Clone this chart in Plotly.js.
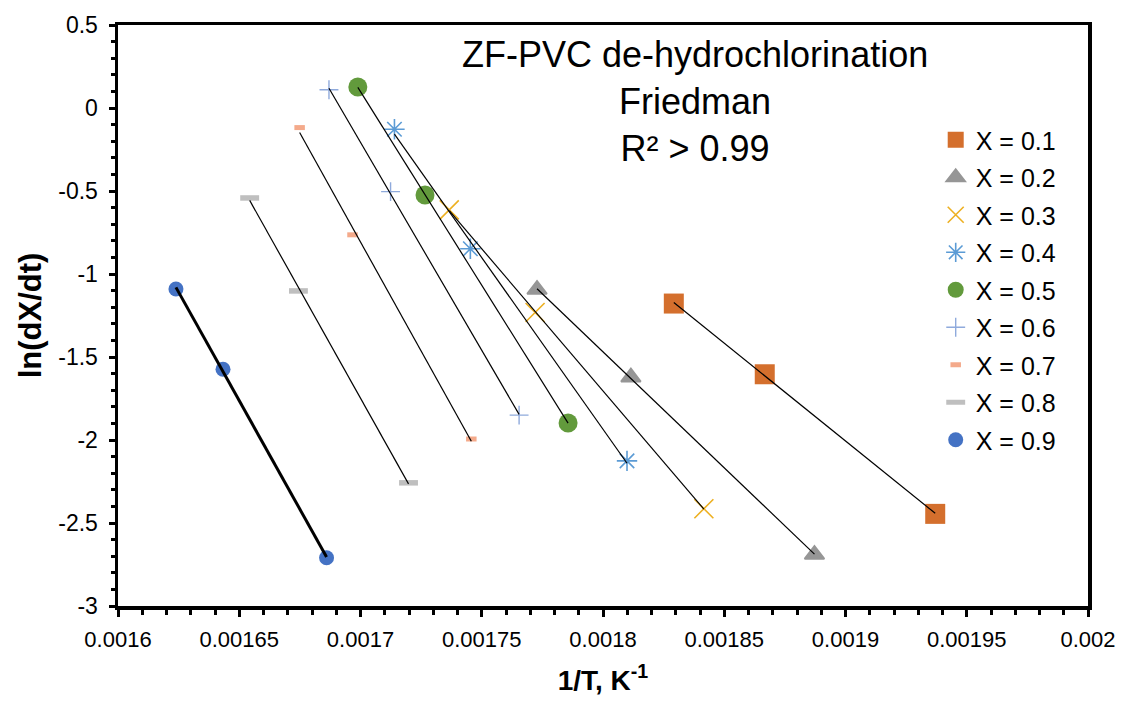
<!DOCTYPE html>
<html><head><meta charset="utf-8">
<script src="https://cdn.plot.ly/plotly-3.0.1.min.js"></script>
<style>html,body{margin:0;padding:0;background:#fff}#chart{width:1128px;height:708px}</style>
</head><body><div id="chart"></div>
<script>
// ---- data (1/T in K^-1, ln(dX/dt)) ----
const seriesNames = ['X = 0.1','X = 0.2','X = 0.3','X = 0.4','X = 0.5','X = 0.6','X = 0.7','X = 0.8','X = 0.9'];
const invT_01 = [0.0018292, 0.0018667, 0.0019370];
const lnR_01  = [-1.178, -1.604, -2.445];
const invT_02 = [0.0017728, 0.0018115, 0.0018872];
const lnR_02  = [-1.094, -1.622, -2.690];
const invT_03 = [0.0017366, 0.0017720, 0.0018416];
const lnR_03  = [-0.614, -1.232, -2.414];
const invT_04 = [0.0017140, 0.0017453, 0.0018099];
const lnR_04  = [-0.128, -0.848, -2.126];
const invT_05 = [0.0016989, 0.0017266, 0.0017856];
const lnR_05  = [0.126, -0.524, -1.898];
const invT_06 = [0.0016870, 0.0017124, 0.0017654];
const lnR_06  = [0.110, -0.504, -1.850];
const invT_07 = [0.0016749, 0.0016967, 0.0017457];
const lnR_07  = [-0.118, -0.764, -1.994];
const invT_08 = [0.0016543, 0.0016744, 0.0017198];
const lnR_08  = [-0.542, -1.102, -2.258];
const invT_09 = [0.0016239, 0.0016433, 0.0016860];
const lnR_09  = [-1.090, -1.574, -2.709];

const xTickVals = [0.0016,0.00165,0.0017,0.00175,0.0018,0.00185,0.0019,0.00195,0.002];
const xTickText = ['0.0016','0.00165','0.0017','0.00175','0.0018','0.00185','0.0019','0.00195','0.002'];
const yTickVals = [-3,-2.5,-2,-1.5,-1,-0.5,0,0.5];
const yTickText = ['-3','-2.5','-2','-1.5','-1','-0.5','0','0.5'];

const titleText = 'ZF-PVC de-hydrochlorination<br>Friedman<br>R² > 0.99';

// ---- styles ----
const xs = [invT_01,invT_02,invT_03,invT_04,invT_05,invT_06,invT_07,invT_08,invT_09];
const ys = [lnR_01,lnR_02,lnR_03,lnR_04,lnR_05,lnR_06,lnR_07,lnR_08,lnR_09];
const styles = [
  {symbol:'square', size:20, color:'#D46F2D', lw:0},
  {symbol:'triangle-up', size:17, color:'#969696', lw:2},
  {symbol:'x-thin-open', size:19, color:'#EDB021', lw:1.6},
  {symbol:'asterisk-open', size:17, color:'#5B9BD5', lw:1.6},
  {symbol:'circle', size:19, color:'#629A3C', lw:0},
  {symbol:'cross-thin-open', size:13.5, color:'#8FAADC', lw:1.4},
  {symbol:'line-ew-open', size:7.5, color:'#F4AA8B', lw:5},
  {symbol:'line-ew-open', size:13.5, color:'#BFBFBF', lw:5.5},
  {symbol:'circle', size:15, color:'#4472C4', lw:0}
];

function linfit(x, y){
  const n = x.length;
  let sx=0, sy=0, sxx=0, sxy=0;
  for(let i=0;i<n;i++){sx+=x[i];sy+=y[i];sxx+=x[i]*x[i];sxy+=x[i]*y[i];}
  const b = (n*sxy - sx*sy)/(n*sxx - sx*sx);
  const a = (sy - b*sx)/n;
  const x0 = Math.min(...x), x1 = Math.max(...x);
  return {x:[x0,x1], y:[a+b*x0, a+b*x1]};
}

const traces = [];
for(let i=0;i<9;i++){
  const s = styles[i];
  traces.push({
    type:'scatter', mode:'markers', name:seriesNames[i],
    x:xs[i], y:ys[i], legendgroup:'g'+i,
    marker:{symbol:s.symbol, size:s.size, color:s.color,
            line:{width:s.lw, color:s.color}},
    hoverinfo:'x+y'
  });
}
for(let i=0;i<9;i++){
  const f = linfit(xs[i], ys[i]);
  traces.push({
    type:'scatter', mode:'lines', x:f.x, y:f.y, showlegend:false,
    line:{color:'#000', width:(i===8?3:1.2)}, hoverinfo:'skip'
  });
}

const font = 'Liberation Sans, Arial, sans-serif';
const layout = {
  width:1128, height:708,
  margin:{l:118, r:40, t:25, b:102},
  paper_bgcolor:'#fff', plot_bgcolor:'#fff',
  font:{family:font, color:'#000'},
  showlegend:true,
  legend:{x:0.843, y:0.8416, xanchor:'left', yanchor:'top',
          font:{family:font, size:25, color:'#000'},
          bgcolor:'rgba(0,0,0,0)', borderwidth:0,
          traceorder:'grouped', tracegroupgap:2},
  xaxis:{
    range:[0.0016,0.002], tickmode:'array', tickvals:xTickVals, ticktext:xTickText,
    showgrid:false, zeroline:false, showline:true, linecolor:'#000', linewidth:3.5, mirror:true,
    ticks:'outside', ticklen:7, tickwidth:3, tickcolor:'#000', ticklabelstandoff:4,
    tickfont:{family:font, size:22, color:'#000'},
    minor:{tickmode:'linear', tick0:0.0016, dtick:0.00001, ticks:'outside', ticklen:5, tickwidth:3, tickcolor:'#000', showgrid:false},
    title:{text:'1/T, K<sup>-1</sup>', font:{family:font, size:28, weight:'bold', color:'#000'}, standoff:20}
  },
  yaxis:{
    range:[-3,0.5], tickmode:'array', tickvals:yTickVals, ticktext:yTickText,
    showgrid:false, zeroline:false, showline:true, linecolor:'#000', linewidth:3.5, mirror:true,
    ticks:'outside', ticklen:6, tickwidth:3, tickcolor:'#000', ticklabelstandoff:6,
    tickfont:{family:font, size:23, color:'#000'},
    minor:{tickmode:'linear', tick0:-3, dtick:0.1, ticks:'outside', ticklen:4, tickwidth:3, tickcolor:'#000', showgrid:false},
    title:{text:'ln(dX/dt)', font:{family:font, size:31, weight:'bold', color:'#000'}, standoff:8}
  },
  annotations:[{
    xref:'paper', yref:'paper', x:0.595, y:0.868, xanchor:'center', yanchor:'middle',
    text:titleText, showarrow:false, align:'center',
    font:{family:font, size:36, color:'#000'}
  }]
};

Plotly.newPlot('chart', traces, layout, {displayModeBar:false, staticPlot:true});
</script>
</body></html>
